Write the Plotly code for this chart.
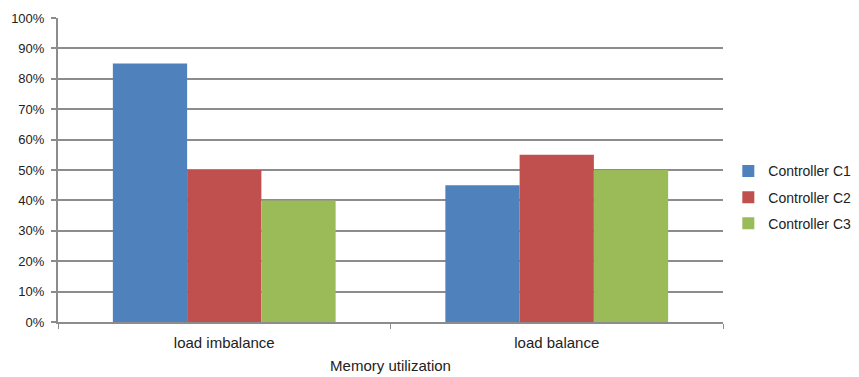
import plotly.graph_objects as go

categories = ["load imbalance", "load balance"]
series_names = ["Controller C1", "Controller C2", "Controller C3"]
c1_values = [85, 45]
c2_values = [50, 55]
c3_values = [40, 50]
y_tick_values = [0, 10, 20, 30, 40, 50, 60, 70, 80, 90, 100]
y_tick_labels = [f"{v}%" for v in y_tick_values]

colors = ["#4F81BD", "#C0504D", "#9BBB59"]
font_family = "Liberation Sans, Arial, sans-serif"

fig = go.Figure()
for i, (name, vals) in enumerate(zip(series_names, [c1_values, c2_values, c3_values])):
    fig.add_trace(go.Bar(
        x=categories, y=vals, name=name,
        marker=dict(color=colors[i], line=dict(width=0)),
        legendgroup=name,
    ))

fig.update_layout(
    width=859, height=377,
    margin=dict(l=58, r=136, t=18, b=55, autoexpand=False),
    paper_bgcolor="white", plot_bgcolor="white",
    barmode="group", bargap=0.33, bargroupgap=0,
    font=dict(family=font_family, size=13, color="#222"),
    legend=dict(
        x=1.008, xanchor="left", y=0.41, yanchor="middle",
        font=dict(size=14, color="#222"),
        traceorder="grouped", tracegroupgap=5,
        itemwidth=30,
    ),
    showlegend=True,
)

fig.update_yaxes(
    range=[0, 100],
    tickvals=y_tick_values, ticktext=y_tick_labels,
    showgrid=True, gridcolor="#8c8c8c", gridwidth=2,
    showline=True, linecolor="#8c8c8c", linewidth=2,
    ticks="outside", ticklen=5, tickcolor="#8c8c8c", tickwidth=2,
    ticklabelstandoff=4,
    zeroline=False,
    tickfont=dict(size=13, color="#222"),
)
fig.update_xaxes(
    showline=True, linecolor="#8c8c8c", linewidth=2,
    ticks="outside", ticklen=5, tickcolor="#8c8c8c", tickwidth=1,
    tickson="boundaries",
    ticklabelstandoff=6,
    showgrid=False,
    title=dict(text="Memory utilization", font=dict(size=15, color="#222"), standoff=10),
    tickfont=dict(size=15, color="#222"),
)

fig.write_html("out.html")
